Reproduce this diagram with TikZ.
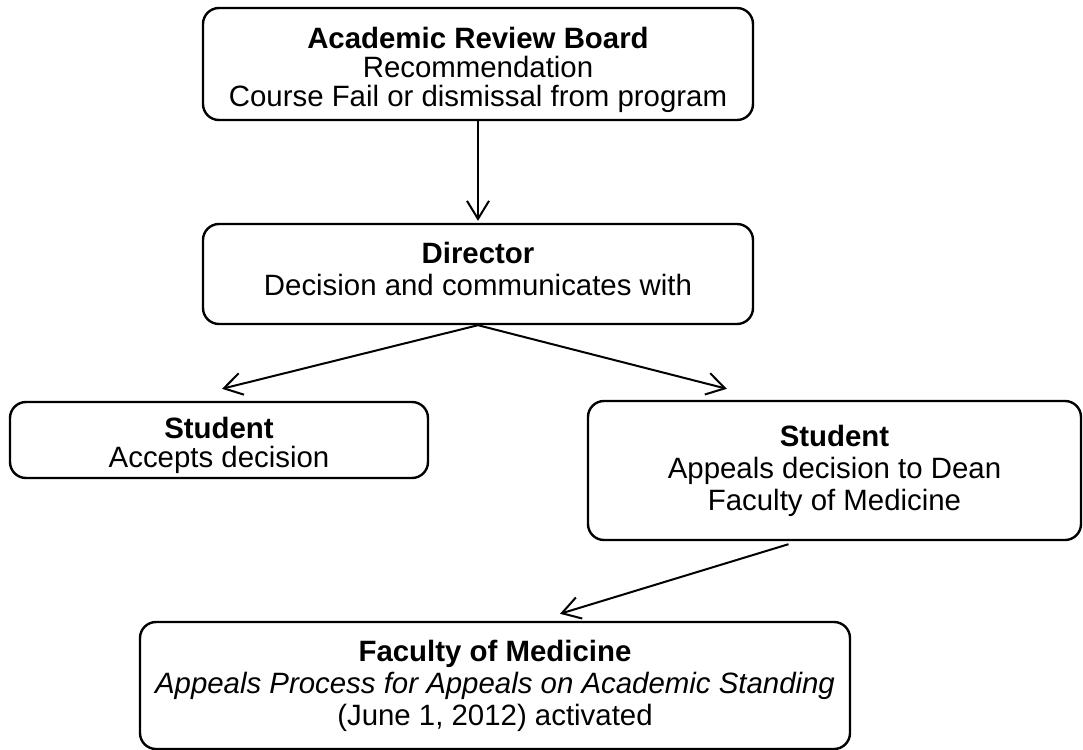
\documentclass[tikz,border=0pt]{standalone}
\usepackage{fontspec}
\setmainfont{Liberation Sans}
\usetikzlibrary{arrows.meta}

\begin{document}
\begin{tikzpicture}[x=0.5pt, y=-0.5pt,
	box/.style={draw, line width=1.2pt, rounded corners=8pt, align=center, inner sep=0pt,
		font=\fontsize{14.7}{16}\selectfont},
	tight/.style={font=\fontsize{14.7}{14.5}\selectfont},
	textup/.style={execute at end node={\rule[-#1]{0pt}{0pt}}},
	arr/.style={line width=1pt, -{Straight Barb[length=9pt,width=11pt]}}]
			%%%%% START %%%%%
			\useasboundingbox (0, 0) rectangle (1083, 750);
			
			\node[box, tight, text height=45.7pt, minimum width=275pt, minimum height=56pt] (board) at (478, 64)
				{\textbf{Academic Review Board}\\Recommendation\\Course Fail or dismissal from program};
			\node[box, textup=5pt, minimum width=275pt, minimum height=50pt] (director) at (478, 274)
				{\textbf{Director}\\Decision and communicates with};
			
			\node[box, tight, text height=30.2pt, minimum width=209pt, minimum height=38pt] (accepts) at (219, 440)
				{\textbf{Student}\\Accepts decision};
			\node[box, minimum width=246.5pt, minimum height=69.5pt] (appeals) at (834.5, 470.5)
				{\textbf{Student}\\Appeals decision to Dean\\Faculty of Medicine};
			
			\node[box, minimum width=355pt, minimum height=63.5pt] (faculty) at (495, 685.5)
				{\textbf{Faculty of Medicine}\\\textit{Appeals Process for Appeals on Academic Standing}\\(June 1, 2012) activated};
			
			\draw[arr] (board.south) -- ([shift={(0, -2)}]director.north);
			\draw[arr] (director.south) -- ([shift={(3, -12)}]accepts.north);
			\draw[arr] (director.south) -- ([shift={(140, -11)}]appeals.north west);
			\draw[arr] ([shift={(-46, 3)}]appeals.south) -- ([shift={(65, -7)}]faculty.north);
			%%%%% END %%%%%
\end{tikzpicture}
\end{document}
